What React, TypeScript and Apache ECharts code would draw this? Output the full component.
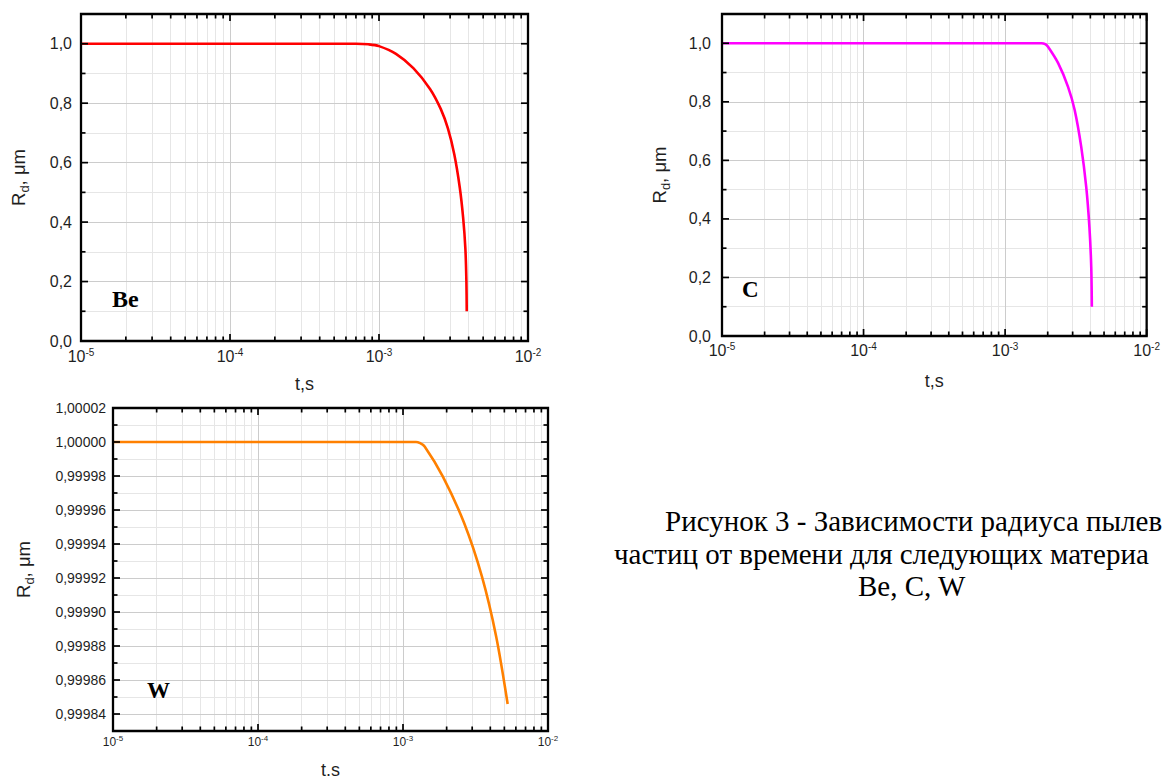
import React, { useEffect, useRef } from "react";
import * as echarts from "echarts";

// ---------- data ----------
const BE_T = [1e-5, 1e-4, 5e-4, 7.0e-4, 8.5e-4, 1.0e-3, 1.3e-3, 1.7e-3, 2.2e-3, 2.6e-3, 2.9e-3, 3.2e-3, 3.48e-3, 3.67e-3, 3.8e-3, 3.86e-3, 3.88e-3];
const BE_R = [1, 1, 1, 1, 0.998, 0.992, 0.966, 0.918, 0.848, 0.78, 0.715, 0.628, 0.518, 0.415, 0.31, 0.2, 0.1];

const C_T = [1e-5, 1e-4, 1e-3, 1.81e-3, 1.92e-3, 2.01e-3, 2.37e-3, 2.78e-3, 3.1e-3, 3.45e-3, 3.74e-3, 3.94e-3, 4.06e-3, 4.1e-3];
const C_R = [1, 1, 1, 1, 0.997, 0.988, 0.932, 0.852, 0.772, 0.646, 0.51, 0.373, 0.236, 0.1];

const W_T = [1e-5, 1e-4, 1e-3, 1.23e-3, 1.3e-3, 1.41e-3, 1.88e-3, 2.64e-3, 3.5e-3, 4.39e-3, 5.27e-3];
const W_R = [1, 1, 1, 1, 0.9999995, 0.9999974, 0.9999798, 0.9999523, 0.9999209, 0.9998856, 0.9998459];

// ---------- tick values ----------
const X_MIN = 1e-5;
const X_MAX = 1e-2;
const X_DECADES = [1e-5, 1e-4, 1e-3, 1e-2];
const X_MINOR_MULT = [2, 3, 4, 5, 6, 7, 8, 9];

const R_Y_MAJOR = [0, 0.2, 0.4, 0.6, 0.8, 1.0];
const R_Y_MINOR = [0.1, 0.3, 0.5, 0.7, 0.9];
const W_Y_MAJOR = [0.99984, 0.99986, 0.99988, 0.9999, 0.99992, 0.99994, 0.99996, 0.99998, 1.0, 1.00002];
const W_Y_MINOR = [0.99985, 0.99987, 0.99989, 0.99991, 0.99993, 0.99995, 0.99997, 0.99999, 1.00001];

// caption as visible in the picture (it runs past the right edge)
const CAPTION = [
  "Рисунок 3 - Зависимости радиуса пылев",
  "частиц от времени для следующих материа",
  "Be, C, W",
];

// minor x ticks: 2..9 x each decade
const X_MINOR: number[] = [];
for (let d = 0; d < X_DECADES.length - 1; d++) {
  for (const k of X_MINOR_MULT) X_MINOR.push(k * X_DECADES[d]);
}
// same positions expressed in decades, for a linear grid-line axis spanning -5..-2
const X_MINOR_LOG = X_MINOR.map((v) => Math.log10(v));

const SANS = "'Liberation Sans', Arial, sans-serif";
const SERIF = "'Liberation Serif', 'Times New Roman', serif";
const FRAME = "#000000";
const TEXT = "#1f1f1f";
const GRID_MAJOR = "#cccccc";
const GRID_MINOR = "#e6e6e6";

type Panel = {
  grid: { left: number; top: number; width: number; height: number };
  yMin: number;
  yMax: number;
  yMajor: number[];
  yMinor: number[];
  yDigits: number;
  yLabelSize: number;
  yLabelMargin: number;
  xLabelSize: number;
  xSupSize: number;
  xLabelMargin: number;
  xName: string;
  xNameGap: number;
  yNameGap: number;
  color: string;
  t: number[];
  r: number[];
  tag: string;
  tagSize: number;
  tagX: number;
  tagY: number;
};

const PANELS: Panel[] = [
  {
    grid: { left: 81, top: 14, width: 447, height: 327 },
    yMin: 0, yMax: 1.1, yMajor: R_Y_MAJOR, yMinor: R_Y_MINOR, yDigits: 1,
    yLabelSize: 16, yLabelMargin: 9, xLabelSize: 16, xSupSize: 10, xLabelMargin: 6,
    xName: "t,s", xNameGap: 34, yNameGap: 50, color: "#ff0000",
    t: BE_T, r: BE_R, tag: "Be", tagSize: 24, tagX: 112, tagY: 299,
  },
  {
    grid: { left: 722, top: 14, width: 427, height: 322 },
    yMin: 0, yMax: 1.1, yMajor: R_Y_MAJOR, yMinor: R_Y_MINOR, yDigits: 1,
    yLabelSize: 16, yLabelMargin: 11, xLabelSize: 16, xSupSize: 10, xLabelMargin: 5,
    xName: "t,s", xNameGap: 36, yNameGap: 50, color: "#ff00ff",
    t: C_T, r: C_R, tag: "C", tagSize: 23, tagX: 742, tagY: 289,
  },
  {
    grid: { left: 113, top: 408, width: 435, height: 323 },
    yMin: 0.99983, yMax: 1.00002, yMajor: W_Y_MAJOR, yMinor: W_Y_MINOR, yDigits: 5,
    yLabelSize: 14, yLabelMargin: 7, xLabelSize: 12, xSupSize: 8, xLabelMargin: 3,
    xName: "t.s", xNameGap: 30, yNameGap: 77, color: "#ff8000",
    t: W_T, r: W_R, tag: "W", tagSize: 23, tagX: 147, tagY: 690,
  },
];

const NONE = () => ({ show: false });

function buildOption() {
  const grid: any[] = [];
  const xAxis: any[] = [];
  const yAxis: any[] = [];
  const series: any[] = [];
  const finders: { xAxisIndex: number; yAxisIndex: number }[] = [];

  PANELS.forEach((p, i) => {
    grid.push({ ...p.grid, containLabel: false });

    // ---- grid lines (lowest layer) ----
    xAxis.push({
      type: "value", min: -5, max: -2, gridIndex: i, position: "bottom", z: 0,
      axisLine: NONE(), axisTick: { show: false, customValues: X_MINOR_LOG }, axisLabel: NONE(),
      splitLine: { show: true, lineStyle: { color: GRID_MINOR, width: 1 } },
    });
    yAxis.push({
      type: "value", min: p.yMin, max: p.yMax, gridIndex: i, position: "left", z: 0,
      axisLine: NONE(), axisTick: { show: false, customValues: p.yMinor }, axisLabel: NONE(),
      splitLine: { show: true, lineStyle: { color: GRID_MINOR, width: 1 } },
    });
    yAxis.push({
      type: "value", min: p.yMin, max: p.yMax, gridIndex: i, position: "left", z: 1,
      axisLine: NONE(), axisTick: { show: false, customValues: p.yMajor }, axisLabel: NONE(),
      splitLine: { show: true, lineStyle: { color: GRID_MAJOR, width: 1 } },
    });

    // ---- main axes: labels, names, decade grid lines ----
    const xMainIndex = xAxis.length;
    xAxis.push({
      type: "log", logBase: 10, min: X_MIN, max: X_MAX, gridIndex: i, position: "bottom", z: 1,
      axisLine: NONE(), axisTick: NONE(),
      splitLine: { show: true, lineStyle: { color: GRID_MAJOR, width: 1 } },
      axisLabel: {
        margin: p.xLabelMargin,
        formatter: (v: number) => `{b|10}{s|${Math.round(Math.log10(v))}}`,
        rich: {
          b: { fontSize: p.xLabelSize, lineHeight: p.xLabelSize + 3, fontFamily: SANS, color: TEXT },
          s: { fontSize: p.xSupSize, lineHeight: p.xSupSize, verticalAlign: "top", fontFamily: SANS, color: TEXT },
        },
      },
      name: p.xName, nameLocation: "middle", nameGap: p.xNameGap,
      nameTextStyle: { fontSize: 18, fontFamily: SANS, color: TEXT },
    });

    const fmtY = (v: number) => v.toFixed(p.yDigits).replace(".", ",");
    const yMainIndex = yAxis.length;
    yAxis.push({
      type: "value", min: p.yMin, max: p.yMax, gridIndex: i, position: "left", z: 1,
      axisLine: NONE(), axisTick: { show: false, customValues: p.yMajor },
      splitLine: NONE(),
      axisLabel: {
        customValues: p.yMajor, formatter: fmtY, margin: p.yLabelMargin,
        fontSize: p.yLabelSize, fontFamily: SANS, color: TEXT,
      },
      name: "{a|R}{d|d}{a|, μm}", nameLocation: "middle", nameGap: p.yNameGap, nameRotate: 90,
      nameTextStyle: {
        fontFamily: SANS, color: TEXT,
        rich: {
          a: { fontSize: 18.5, lineHeight: 25, fontFamily: SANS, color: TEXT },
          d: { fontSize: 13, lineHeight: 13, verticalAlign: "bottom", fontFamily: SANS, color: TEXT },
        },
      },
    });
    finders.push({ xAxisIndex: xMainIndex, yAxisIndex: yMainIndex });

    series.push({
      type: "line",
      xAxisIndex: xMainIndex,
      yAxisIndex: yMainIndex,
      data: p.t.map((t, j) => [t, p.r[j]]),
      showSymbol: false,
      symbol: "none",
      smooth: 0.3,
      lineStyle: { color: p.color, width: 2.6 },
      z: 3,
    });
  });

  return {
    option: { animation: false, backgroundColor: "#ffffff", grid, xAxis, yAxis, series },
    finders,
  };
}

// frame, inward ticks and texts, placed through the axes after layout
function buildGraphic(chart: echarts.ECharts, finders: { xAxisIndex: number; yAxisIndex: number }[]) {
  const g: any[] = [];
  const tick = { stroke: FRAME, lineWidth: 1.7 };
  PANELS.forEach((p, i) => {
    const f = finders[i];
    const px = (x: number, y: number) => chart.convertToPixel(f as any, [x, y]) as number[];
    const a = px(X_MIN, p.yMin);
    const b = px(X_MAX, p.yMax);
    const left = a[0], bottom = a[1], right = b[0], top = b[1];

    const addX = (v: number, len: number) => {
      const x = px(v, p.yMin)[0];
      g.push({ type: "line", z: 50, silent: true, shape: { x1: x, y1: bottom, x2: x, y2: bottom - len }, style: tick });
      g.push({ type: "line", z: 50, silent: true, shape: { x1: x, y1: top, x2: x, y2: top + len }, style: tick });
    };
    const addY = (v: number, len: number) => {
      const y = px(X_MIN, v)[1];
      g.push({ type: "line", z: 50, silent: true, shape: { x1: left, y1: y, x2: left + len, y2: y }, style: tick });
      g.push({ type: "line", z: 50, silent: true, shape: { x1: right, y1: y, x2: right - len, y2: y }, style: tick });
    };
    X_DECADES.forEach((v) => addX(v, 7));
    X_MINOR.forEach((v) => addX(v, 4.5));
    p.yMajor.forEach((v) => addY(v, 7));
    p.yMinor.forEach((v) => addY(v, 4.5));

    g.push({
      type: "rect", z: 51, silent: true,
      shape: { x: left, y: top, width: right - left, height: bottom - top },
      style: { fill: "transparent", stroke: FRAME, lineWidth: 2.3 },
    });

    g.push({
      type: "text", x: p.tagX, y: p.tagY, z: 60,
      style: {
        text: p.tag, fill: "#000", align: "left", verticalAlign: "middle",
        font: `bold ${p.tagSize}px ${SERIF}`,
      },
    });
  });

  const capPos = [
    { x: 665, y: 521 },
    { x: 614, y: 554 },
    { x: 858, y: 586 },
  ];
  CAPTION.forEach((line, i) => {
    g.push({
      type: "text", x: capPos[i].x, y: capPos[i].y, z: 60,
      style: { text: line, fill: "#000", align: "left", verticalAlign: "middle", font: `29px ${SERIF}` },
    });
  });
  return g;
}

export default function App() {
  const ref = useRef<HTMLDivElement>(null);
  useEffect(() => {
    if (!ref.current) return;
    const chart = echarts.init(ref.current, undefined, { renderer: "svg" });
    const { option, finders } = buildOption();
    chart.setOption(option as any);
    chart.setOption({ graphic: buildGraphic(chart, finders) } as any);
    return () => chart.dispose();
  }, []);
  return (
    <div
      ref={ref}
      style={{ position: "fixed", left: 0, top: 0, width: 1163, height: 780, background: "#fff" }}
    />
  );
}
